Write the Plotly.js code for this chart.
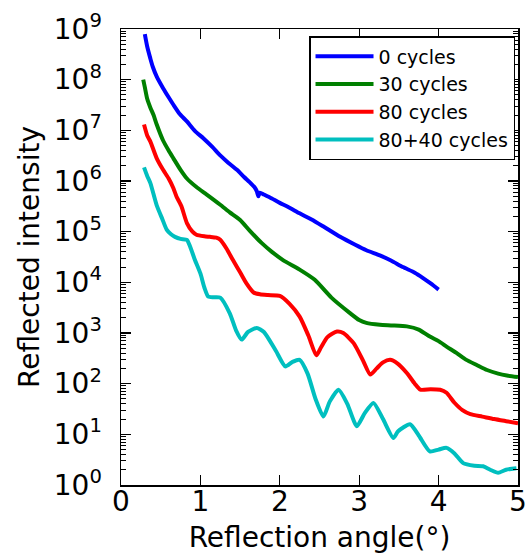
<!DOCTYPE html>
<html><head><meta charset="utf-8">
<script src="https://cdn.plot.ly/plotly-3.0.1.min.js"></script>
<style>html,body{margin:0;padding:0;background:#fff;overflow:hidden;} #chart{width:529px;height:554px;}</style>
</head><body><div id="chart"></div>
<script>
// ---- data ----
const seriesNames = ['0 cycles', '30 cycles', '80 cycles', '80+40 cycles'];

const angle0 = [0.30,0.33,0.37,0.40,0.45,0.53,0.60,0.66,0.74,0.83,0.93,1.04,1.15,1.25,1.35,1.46,1.55,1.62,1.68,1.71,1.73,1.75,1.80,1.90,2.00,2.10,2.25,2.40,2.55,2.76,2.95,3.09,3.26,3.40,3.55,3.70,3.80,3.90,4.00];
const intensity0 = [7.9e8,4.5e8,2.6e8,1.8e8,1.15e8,6.8e7,4.5e7,3.2e7,2.1e7,1.5e7,9.8e6,6.9e6,4.7e6,3.2e6,2.3e6,1.66e6,1.2e6,9.5e5,7.6e5,6.3e5,5.0e5,5.9e5,5.4e5,4.5e5,3.7e5,3.1e5,2.3e5,1.74e5,1.26e5,7.9e4,5.5e4,4.3e4,3.4e4,2.7e4,2.0e4,1.55e4,1.23e4,9.5e3,7.2e3];

const angle30 = [0.28,0.30,0.33,0.37,0.41,0.45,0.53,0.60,0.66,0.75,0.83,0.95,1.08,1.25,1.37,1.50,1.62,1.77,1.90,2.04,2.25,2.44,2.65,2.88,3.00,3.09,3.26,3.40,3.60,3.75,3.89,4.00,4.10,4.22,4.35,4.48,4.61,4.75,4.86,5.00];
const intensity30 = [1.0e8,7.1e7,4.2e7,2.8e7,2.0e7,1.3e7,6.3e6,4.0e6,2.8e6,1.66e6,1.12e6,7.6e5,5.4e5,3.4e5,2.4e5,1.7e5,1.05e5,6.0e4,4.0e4,2.75e4,1.78e4,1.12e4,5.0e3,2.5e3,1.8e3,1.58e3,1.45e3,1.41e3,1.35e3,1.17e3,850,690,540,410,295,234,186,158,145,135];

const angle80 = [0.29,0.33,0.37,0.45,0.53,0.60,0.66,0.70,0.76,0.83,0.90,0.95,1.05,1.12,1.20,1.25,1.33,1.41,1.50,1.58,1.67,1.75,1.85,2.00,2.12,2.25,2.36,2.46,2.52,2.60,2.72,2.80,2.93,3.05,3.14,3.22,3.30,3.39,3.48,3.60,3.70,3.77,3.90,4.02,4.10,4.20,4.30,4.40,4.55,4.70,4.85,5.00];
const intensity80 = [1.3e7,7.9e6,6.0e6,2.8e6,1.66e6,1.12e6,7.2e5,4.9e5,3.2e5,1.48e5,1.0e5,8.7e4,8.1e4,7.9e4,7.6e4,6.9e4,4.6e4,2.75e4,1.58e4,9.5e3,6.3e3,5.8e3,5.6e3,5.4e3,3.8e3,2.1e3,890,363,525,830,1070,1000,630,282,151,200,263,295,251,162,100,76,78,76,66,42,30,25,22.4,20,18.2,16.6];

const angle120 = [0.29,0.33,0.37,0.45,0.52,0.575,0.63,0.68,0.75,0.83,0.87,0.93,1.00,1.05,1.10,1.18,1.25,1.37,1.45,1.52,1.60,1.71,1.80,1.95,2.07,2.16,2.25,2.35,2.45,2.55,2.63,2.74,2.85,2.97,3.07,3.18,3.30,3.43,3.49,3.64,3.75,3.89,4.00,4.10,4.20,4.31,4.45,4.56,4.65,4.75,4.85,4.98];
const intensity120 = [1.86e6,1.26e6,9.1e5,3.3e5,1.78e5,1.1e5,8.9e4,7.9e4,7.2e4,6.9e4,5.1e4,2.8e4,1.5e4,7.9e3,5.2e3,5.1e3,5.0e3,2.45e3,1.12e3,741,1050,1260,1050,447,219,269,295,158,50,22.4,44.7,76,40,14.5,26.3,41.7,20,8.5,11.5,15.8,9.5,4.6,5.0,5.4,4.2,2.7,2.4,2.34,2.0,1.74,2.0,2.14];

const seriesColors = ['#0000ff', '#008000', '#ff0000', '#00bfbf'];
const xTickVals = [0, 1, 2, 3, 4, 5];
const yTickExponents = [0, 1, 2, 3, 4, 5, 6, 7, 8, 9];

// ---- chart ----
const xs = [angle0, angle30, angle80, angle120];
const ys = [intensity0, intensity30, intensity80, intensity120];
const traces = seriesNames.map((n, i) => ({
  type: 'scatter', mode: 'lines', name: n, legendgroup: 'g' + i,
  x: xs[i], y: ys[i],
  line: {color: seriesColors[i], width: 4, shape: 'spline', smoothing: 0.6}
}));

const font = 'DejaVu Sans, sans-serif';
const layout = {
  width: 529, height: 554,
  margin: {l: 121, r: 11, t: 29, b: 69},
  paper_bgcolor: '#fff', plot_bgcolor: '#fff',
  font: {family: font, color: '#000'},
  showlegend: true,
  legend: {
    x: 0.4736, y: 0.9846, xanchor: 'left', yanchor: 'top',
    bgcolor: '#fff', bordercolor: '#000', borderwidth: 1.5,
    font: {family: font, size: 19, color: '#000'},
    itemwidth: 58, tracegroupgap: 0
  },
  xaxis: {
    range: [0, 5], showgrid: false, zeroline: false,
    showline: true, linecolor: '#000', linewidth: 1.5, mirror: 'ticks',
    ticks: 'inside', ticklen: 10, tickwidth: 1.2, tickcolor: '#000',
    tickmode: 'array', tickvals: xTickVals,
    tickfont: {family: font, size: 28, color: '#000'},
    ticklabelstandoff: -9,
    title: {text: 'Reflection angle(°)', font: {family: font, size: 28, color: '#000'}, standoff: 19}
  },
  yaxis: {
    type: 'log', range: [0, 9], showgrid: false, zeroline: false,
    showline: true, linecolor: '#000', linewidth: 1.5, mirror: 'ticks',
    ticks: 'inside', ticklen: 10, tickwidth: 1.2, tickcolor: '#000',
    tickmode: 'array',
    tickvals: yTickExponents.map(e => Math.pow(10, e)),
    ticktext: yTickExponents.map(e => '10<sup>' + e + '</sup>'),
    tickfont: {family: font, size: 28, color: '#000'},
    ticklabelstandoff: 12,
    minor: {ticks: 'inside', ticklen: 5, tickwidth: 1, tickcolor: '#000', dtick: 'D1', showgrid: false},
    title: {text: 'Reflected intensity', font: {family: font, size: 28, color: '#000'}, standoff: 6}
  }
};

Plotly.newPlot('chart', traces, layout, {displayModeBar: false, staticPlot: true});
</script>
</body></html>
